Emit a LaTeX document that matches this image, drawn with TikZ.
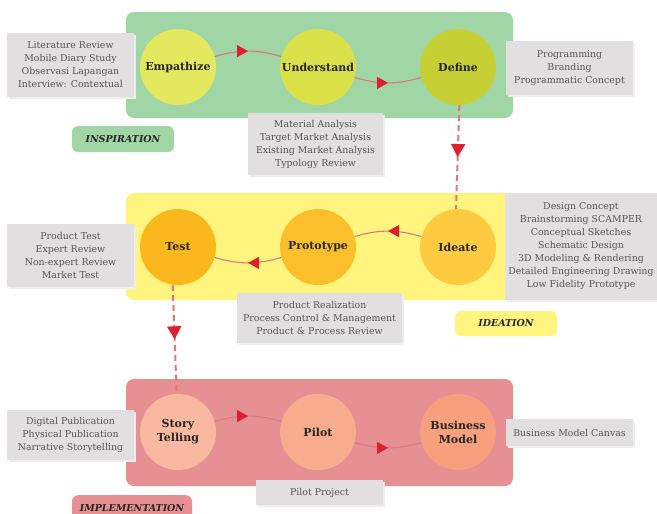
\documentclass[tikz,border=0pt]{standalone}
\usepackage{fontspec}
\setmainfont{DejaVu Serif}
\usetikzlibrary{arrows.meta,decorations.markings}
\definecolor{pgreen}{HTML}{A0D6A5}
\definecolor{pyellow}{HTML}{FFF47E}
\definecolor{pred}{HTML}{E79094}
\definecolor{cemp}{HTML}{E4E85E}
\definecolor{cund}{HTML}{D9E048}
\definecolor{cdef}{HTML}{C6D034}
\definecolor{ctest}{HTML}{FBB81C}
\definecolor{cproto}{HTML}{FCBF2C}
\definecolor{cide}{HTML}{FDCA40}
\definecolor{cstory}{HTML}{F9B8A0}
\definecolor{cpilot}{HTML}{F8AC8E}
\definecolor{cbiz}{HTML}{F6A07E}
\definecolor{infobg}{HTML}{E1DFDF}
\definecolor{infoshadow}{HTML}{EEEEEE}
\definecolor{infotext}{HTML}{555555}
\definecolor{linkline}{HTML}{D97A7E}
\definecolor{tipred}{HTML}{DD1F2E}
\definecolor{dashline}{HTML}{E4737C}
\tikzset{
  panel/.style={rounded corners=8pt, draw=none},
  stage/.style={circle, minimum size=76pt, inner sep=0pt, text=black!85, align=center,
    font=\fontsize{11}{14}\selectfont\bfseries},
  info/.style={fill=infobg, text=infotext, align=center, inner sep=0pt,
    font=\fontsize{9.4}{13}\selectfont},
  tag/.style={rounded corners=6pt, inner sep=0pt, text=black!85,
    font=\fontsize{9.5}{10}\selectfont\bfseries\itshape},
  link/.style={draw=linkline, line width=1.1pt, postaction={decorate},
    decoration={markings, mark=at position 0.5 with {\arrow[color=tipred]{Triangle[length=11pt,width=12pt]}}}},
  dlink/.style={draw=dashline, line width=2pt, dash pattern=on 6pt off 4pt, postaction={decorate},
    decoration={markings, mark=at position 0.5 with {\arrow[color=tipred]{Triangle[length=13pt,width=14pt]}}}}
}
\begin{document}
\begin{tikzpicture}[x=1pt,y=-1pt]
\useasboundingbox (0,0) rectangle (657,514);
% panels
\fill[panel, pgreen] (126,12) rectangle (513,118);
\fill[panel, pyellow] (126,193) rectangle (513,300);
\fill[panel, pred] (126,379) rectangle (513,486);
% info boxes with faint shadow
\foreach \cx/\cy/\w/\h in {70.5/65/127/64, 569.5/68/127/54, 315.5/144/135/62, 70.5/255.5/127/63, 319.5/318/165/50, 70.5/435/127/50, 569.5/432.5/127/27, 319.5/492.5/127/25}{
  \fill[infoshadow] (\cx-\w/2+2,\cy-\h/2+2) rectangle (\cx+\w/2+2,\cy+\h/2+2);
}
\fill[infoshadow] (507,195) rectangle (657,302);
\node[info, minimum width=127pt, minimum height=64pt] (i1) at (70.5,65) {Literature Review\\Mobile Diary Study\\Observasi Lapangan\\Interview: Contextual};
\node[info, minimum width=127pt, minimum height=54pt] (i2) at (569.5,68) {Programming\\Branding\\Programmatic Concept};
\node[info, minimum width=135pt, minimum height=62pt] (i3) at (315.5,144) {Material Analysis\\Target Market Analysis\\Existing Market Analysis\\Typology Review};
\node[info, minimum width=127pt, minimum height=63pt] (i4) at (70.5,255.5) {Product Test\\Expert Review\\Non-expert Review\\Market Test};
\node[info, minimum width=152pt, minimum height=107pt] (i5) at (581,246.5) {Design Concept\\Brainstorming SCAMPER\\Conceptual Sketches\\Schematic Design\\3D Modeling \& Rendering\\Detailed Engineering Drawing\\Low Fidelity Prototype};
\node[info, minimum width=165pt, minimum height=50pt] (i6) at (319.5,318) {Product Realization\\Process Control \& Management\\Product \& Process Review};
\node[info, minimum width=127pt, minimum height=50pt] (i7) at (70.5,435) {Digital Publication\\Physical Publication\\Narrative Storytelling};
\node[info, minimum width=127pt, minimum height=27pt] (i8) at (569.5,432.5) {Business Model Canvas};
\node[info, minimum width=127pt, minimum height=25pt] (i9) at (319.5,492.5) {Pilot Project};
% phase tags
\node[tag, fill=pgreen, minimum width=102pt, minimum height=26pt] (t1) at (123,139) {INSPIRATION};
\node[tag, fill=pyellow, minimum width=102pt, minimum height=25pt] (t2) at (506,323.5) {IDEATION};
\node[tag, fill=pred, minimum width=120pt, minimum height=26pt, anchor=north] (t3) at (132,495) {};
\node[font=\fontsize{9.5}{10}\selectfont\bfseries\itshape, text=black!85, anchor=center] (t3t) at (132,508) {IMPLEMENTATION};
% stages
\node[stage, fill=cemp] (emp) at (178,67) {Empathize};
\node[stage, fill=cund] (und) at (318,67) {Understand};
\node[stage, fill=cdef] (def) at (458,67) {Define};
\node[stage, fill=ctest] (test) at (178,247) {Test};
\node[stage, fill=cproto] (proto) at (318,247) {Prototype};
\node[stage, fill=cide] (ide) at (458,247) {Ideate};
\node[stage, fill=cstory] (story) at (178,432) {Story\\Telling};
\node[stage, fill=cpilot] (pilot) at (318,432) {Pilot};
\node[stage, fill=cbiz] (biz) at (458,432) {Business\\Model};
% connectors
\draw[link] (emp) to[bend left=16] (und);
\draw[link] (und) to[bend right=16] (def);
\draw[link] (ide) to[bend right=16] (proto);
\draw[link] (proto) to[bend left=16] (test);
\draw[link] (story) to[bend left=16] (pilot);
\draw[link] (pilot) to[bend right=16] (biz);
\draw[dlink] (def.272) -- (ide.93);
\draw[dlink] (test.262) -- (story.92);
\end{tikzpicture}
\end{document}
